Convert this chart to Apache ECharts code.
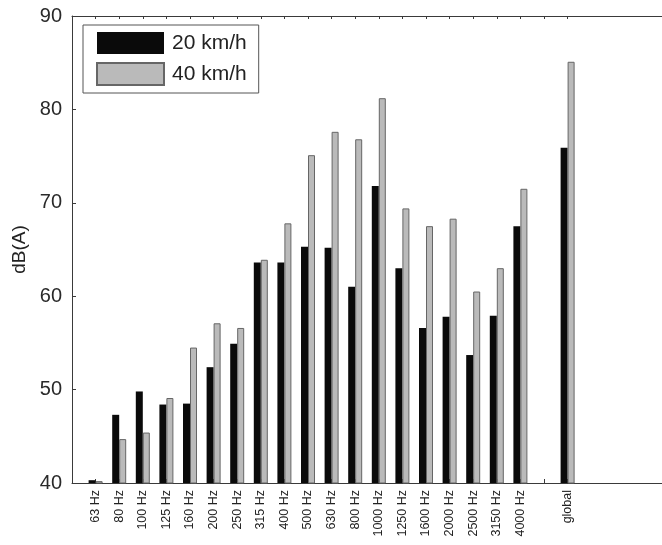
<!DOCTYPE html>
<html>
<head>
<meta charset="utf-8">
<script src="https://cdn.jsdelivr.net/npm/echarts@6/dist/echarts.min.js"></script>
<style>html,body{margin:0;padding:0;background:#fff}#c{width:662px;height:545px}</style>
</head>
<body>
<div id="c"></div>
<script>
// Categories (x = 0..25; first slot and trailing slots empty as in the original axis range)
const categories = ["", "63 Hz", "80 Hz", "100 Hz", "125 Hz", "160 Hz", "200 Hz", "250 Hz", "315 Hz", "400 Hz", "500 Hz", "630 Hz", "800 Hz", "1000 Hz", "1250 Hz", "1600 Hz", "2000 Hz", "2500 Hz", "3150 Hz", "4000 Hz", "", "global", "", "", "", ""];
const speed20 = [null, 40.3, 47.3, 49.8, 48.4, 48.5, 52.4, 54.9, 63.6, 63.6, 65.3, 65.2, 61.0, 71.8, 63.0, 56.6, 57.8, 53.7, 57.9, 67.5, null, 75.9, null, null, null, null];
const speed40 = [null, 40.2, 44.7, 45.4, 49.1, 54.5, 57.1, 56.6, 63.9, 67.8, 75.1, 77.6, 76.8, 81.2, 69.4, 67.5, 68.3, 60.5, 63.0, 71.5, null, 85.1, null, null, null, null];
const yTicks = {min: 40, max: 90, interval: 10};
const seriesNames = ["20 km/h", "40 km/h"];

const chart = echarts.init(document.getElementById('c'), null, {renderer: 'canvas'});
const axisCol = '#3a3a3a';
const ff = 'Liberation Sans, Arial, sans-serif';
const tickFilter = (i) => i >= 1 && i <= 21;
chart.setOption({
  animation: false,
  backgroundColor: '#fff',
  textStyle: {fontFamily: ff},
  grid: {left: 72, top: 16, right: -6, bottom: 62, containLabel: false},
  legend: {
    orient: 'vertical', left: 83, top: 25,
    data: seriesNames,
    itemWidth: 67, itemHeight: 22, itemGap: 8,
    padding: [7, 12, 7, 13],
    borderColor: '#555', borderWidth: 1,
    icon: 'rect',
    textStyle: {fontSize: 21, color: '#222', fontFamily: ff, padding: [0, 0, 0, 3]}
  },
  xAxis: [{
    type: 'category', data: categories, boundaryGap: false, position: 'bottom',
    axisLine: {lineStyle: {color: axisCol, width: 1}},
    axisTick: {inside: true, length: 4, interval: tickFilter, lineStyle: {color: axisCol}},
    axisLabel: {rotate: 90, fontSize: 12.5, color: '#222', interval: 0, margin: 7},
    splitLine: {show: false}
  }, {
    type: 'category', data: categories, boundaryGap: false, position: 'top',
    axisLine: {lineStyle: {color: axisCol, width: 1}},
    axisTick: {inside: true, length: 3, interval: tickFilter, lineStyle: {color: axisCol}},
    axisLabel: {show: false},
    splitLine: {show: false}
  }],
  yAxis: {
    type: 'value', min: yTicks.min, max: yTicks.max, interval: yTicks.interval,
    name: 'dB(A)', nameLocation: 'middle', nameGap: 41, nameRotate: 90,
    nameTextStyle: {fontSize: 19, color: '#222'},
    axisLine: {show: true, lineStyle: {color: axisCol, width: 1}},
    axisTick: {show: true, inside: true, length: 4, lineStyle: {color: axisCol}},
    axisLabel: {fontSize: 20, color: '#2a2a2a', margin: 10},
    splitLine: {show: false}
  },
  series: [{
    name: seriesNames[0], type: 'bar', data: speed20, barWidth: 7, barGap: '0%',
    itemStyle: {color: '#0a0a0a'}
  }, {
    name: seriesNames[1], type: 'bar', data: speed40, barWidth: 7, barGap: '0%',
    itemStyle: {color: '#bababa', borderColor: '#666', borderWidth: 1}
  }]
});
</script>
</body>
</html>
